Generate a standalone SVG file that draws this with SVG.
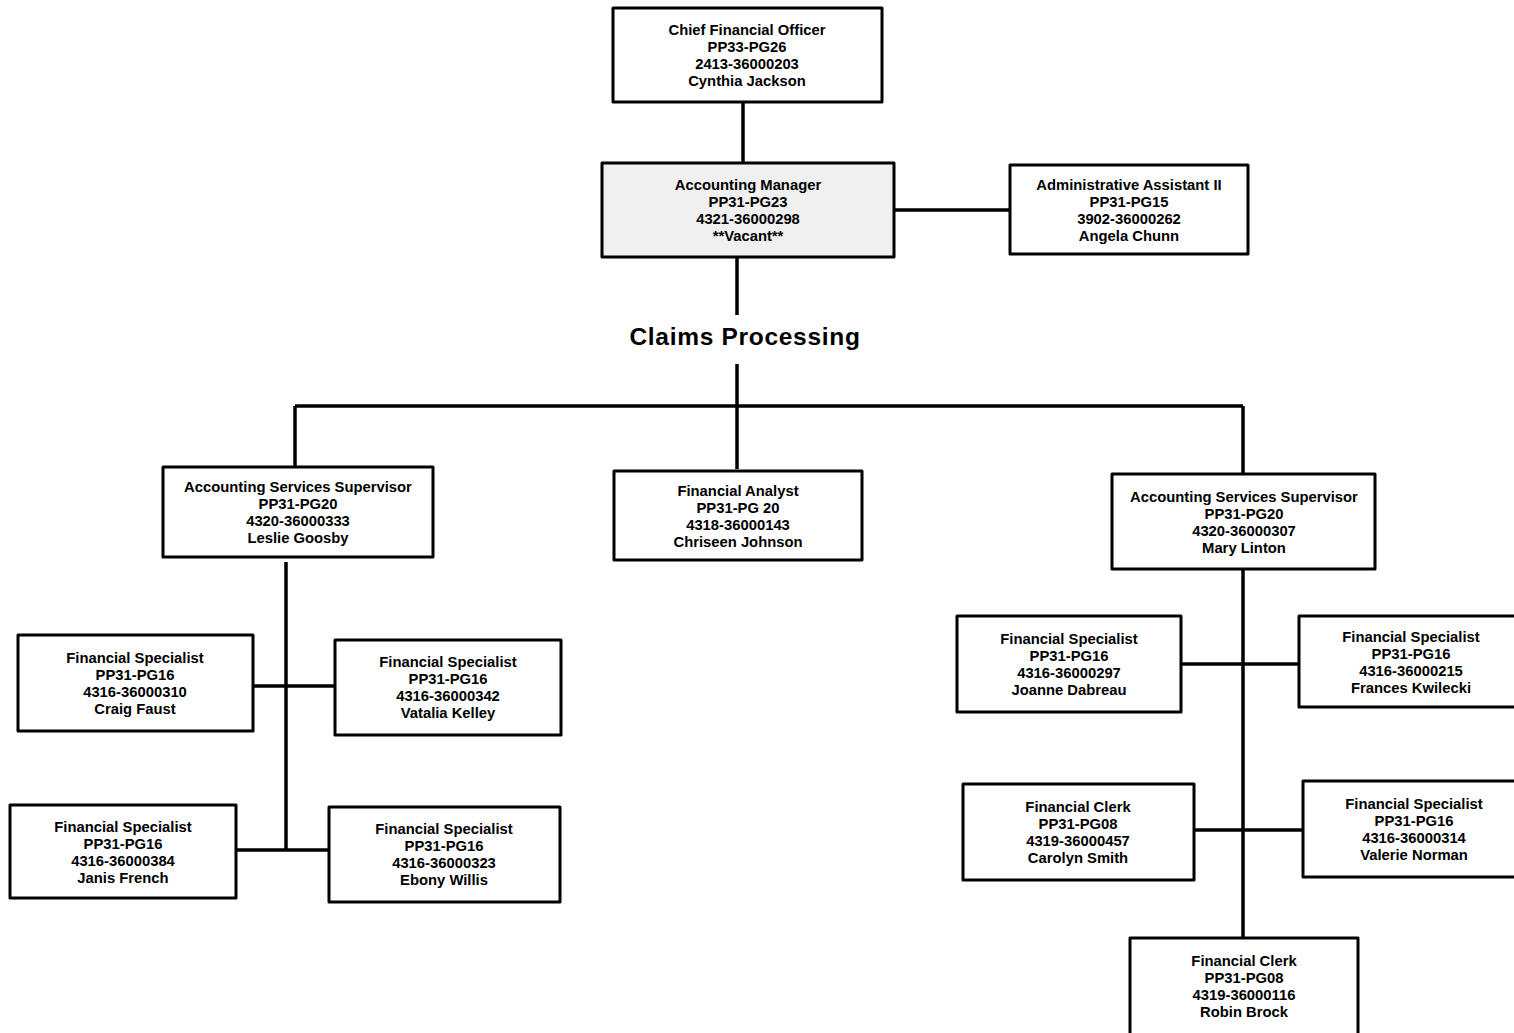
<svg xmlns="http://www.w3.org/2000/svg" width="1514" height="1033" viewBox="0 0 1514 1033">
  <style>
    .box { fill: #ffffff; stroke: #000000; stroke-width: 3; stroke-linejoin: round; }
    .vac { fill: #f0f0f0; }
    .lbl { font-family: "Liberation Sans", Arial, sans-serif; font-weight: bold; font-size: 14.8px; fill: #000000; text-anchor: middle; }
    .head { font-family: "Liberation Sans", Arial, sans-serif; font-weight: bold; font-size: 24.5px; letter-spacing: 0.7px; fill: #000000; text-anchor: middle; }
    .wire { stroke: #000000; stroke-width: 3.5; fill: none; }
  </style>
  <rect width="1514" height="1033" fill="#ffffff"/>

  <!-- reporting lines -->
  <g id="connectors" class="wire">
    <line x1="743" y1="102" x2="743" y2="163"/>
    <line x1="894" y1="210" x2="1010" y2="210"/>
    <line x1="737" y1="257" x2="737" y2="315"/>
    <line x1="737" y1="364" x2="737" y2="469"/>
    <line x1="295" y1="406" x2="1243" y2="406"/>
    <line x1="295" y1="406" x2="295" y2="467"/>
    <line x1="1243" y1="406" x2="1243" y2="474"/>
    <line x1="286" y1="562" x2="286" y2="851"/>
    <line x1="253" y1="686" x2="335" y2="686"/>
    <line x1="236" y1="850" x2="329" y2="850"/>
    <line x1="1243" y1="569" x2="1243" y2="938"/>
    <line x1="1181" y1="664" x2="1299" y2="664"/>
    <line x1="1194" y1="830" x2="1303" y2="830"/>
  </g>

  <text class="head" x="745" y="345">Claims Processing</text>

  <g id="cfo">
    <rect class="box" x="613" y="8" width="269" height="94"/>
    <text class="lbl" x="747" y="35"><tspan x="747">Chief Financial Officer</tspan><tspan x="747" dy="17">PP33-PG26</tspan><tspan x="747" dy="17">2413-36000203</tspan><tspan x="747" dy="17">Cynthia Jackson</tspan></text>
  </g>

  <g id="accounting-manager">
    <rect class="box vac" x="602" y="163" width="292" height="94"/>
    <text class="lbl" x="748" y="190"><tspan x="748">Accounting Manager</tspan><tspan x="748" dy="17">PP31-PG23</tspan><tspan x="748" dy="17">4321-36000298</tspan><tspan x="748" dy="17">**Vacant**</tspan></text>
  </g>

  <g id="admin-assistant">
    <rect class="box" x="1010" y="165" width="238" height="89"/>
    <text class="lbl" x="1129" y="190"><tspan x="1129">Administrative Assistant II</tspan><tspan x="1129" dy="17">PP31-PG15</tspan><tspan x="1129" dy="17">3902-36000262</tspan><tspan x="1129" dy="17">Angela Chunn</tspan></text>
  </g>

  <g id="supervisor-goosby">
    <rect class="box" x="163" y="467" width="270" height="90"/>
    <text class="lbl" x="298" y="492"><tspan x="298">Accounting Services Supervisor</tspan><tspan x="298" dy="17">PP31-PG20</tspan><tspan x="298" dy="17">4320-36000333</tspan><tspan x="298" dy="17">Leslie Goosby</tspan></text>
  </g>

  <g id="financial-analyst">
    <rect class="box" x="614" y="471" width="248" height="89"/>
    <text class="lbl" x="738" y="496"><tspan x="738">Financial Analyst</tspan><tspan x="738" dy="17">PP31-PG 20</tspan><tspan x="738" dy="17">4318-36000143</tspan><tspan x="738" dy="17">Chriseen Johnson</tspan></text>
  </g>

  <g id="supervisor-linton">
    <rect class="box" x="1112" y="474" width="263" height="95"/>
    <text class="lbl" x="1244" y="502"><tspan x="1244">Accounting Services Supervisor</tspan><tspan x="1244" dy="17">PP31-PG20</tspan><tspan x="1244" dy="17">4320-36000307</tspan><tspan x="1244" dy="17">Mary Linton</tspan></text>
  </g>

  <g id="faust">
    <rect class="box" x="18" y="635" width="235" height="96"/>
    <text class="lbl" x="135" y="663"><tspan x="135">Financial Specialist</tspan><tspan x="135" dy="17">PP31-PG16</tspan><tspan x="135" dy="17">4316-36000310</tspan><tspan x="135" dy="17">Craig Faust</tspan></text>
  </g>

  <g id="kelley">
    <rect class="box" x="335" y="640" width="226" height="95"/>
    <text class="lbl" x="448" y="667"><tspan x="448">Financial Specialist</tspan><tspan x="448" dy="17">PP31-PG16</tspan><tspan x="448" dy="17">4316-36000342</tspan><tspan x="448" dy="17">Vatalia Kelley</tspan></text>
  </g>

  <g id="french">
    <rect class="box" x="10" y="805" width="226" height="93"/>
    <text class="lbl" x="123" y="832"><tspan x="123">Financial Specialist</tspan><tspan x="123" dy="17">PP31-PG16</tspan><tspan x="123" dy="17">4316-36000384</tspan><tspan x="123" dy="17">Janis French</tspan></text>
  </g>

  <g id="willis">
    <rect class="box" x="329" y="807" width="231" height="95"/>
    <text class="lbl" x="444" y="834"><tspan x="444">Financial Specialist</tspan><tspan x="444" dy="17">PP31-PG16</tspan><tspan x="444" dy="17">4316-36000323</tspan><tspan x="444" dy="17">Ebony Willis</tspan></text>
  </g>

  <g id="dabreau">
    <rect class="box" x="957" y="616" width="224" height="96"/>
    <text class="lbl" x="1069" y="644"><tspan x="1069">Financial Specialist</tspan><tspan x="1069" dy="17">PP31-PG16</tspan><tspan x="1069" dy="17">4316-36000297</tspan><tspan x="1069" dy="17">Joanne Dabreau</tspan></text>
  </g>

  <g id="kwilecki">
    <rect class="box" x="1299" y="616" width="224" height="91"/>
    <text class="lbl" x="1411" y="642"><tspan x="1411">Financial Specialist</tspan><tspan x="1411" dy="17">PP31-PG16</tspan><tspan x="1411" dy="17">4316-36000215</tspan><tspan x="1411" dy="17">Frances Kwilecki</tspan></text>
  </g>

  <g id="smith">
    <rect class="box" x="963" y="784" width="231" height="96"/>
    <text class="lbl" x="1078" y="812"><tspan x="1078">Financial Clerk</tspan><tspan x="1078" dy="17">PP31-PG08</tspan><tspan x="1078" dy="17">4319-36000457</tspan><tspan x="1078" dy="17">Carolyn Smith</tspan></text>
  </g>

  <g id="norman">
    <rect class="box" x="1303" y="781" width="222" height="96"/>
    <text class="lbl" x="1414" y="809"><tspan x="1414">Financial Specialist</tspan><tspan x="1414" dy="17">PP31-PG16</tspan><tspan x="1414" dy="17">4316-36000314</tspan><tspan x="1414" dy="17">Valerie Norman</tspan></text>
  </g>

  <g id="brock">
    <rect class="box" x="1130" y="938" width="228" height="100"/>
    <text class="lbl" x="1244" y="966"><tspan x="1244">Financial Clerk</tspan><tspan x="1244" dy="17">PP31-PG08</tspan><tspan x="1244" dy="17">4319-36000116</tspan><tspan x="1244" dy="17">Robin Brock</tspan></text>
  </g>
</svg>
